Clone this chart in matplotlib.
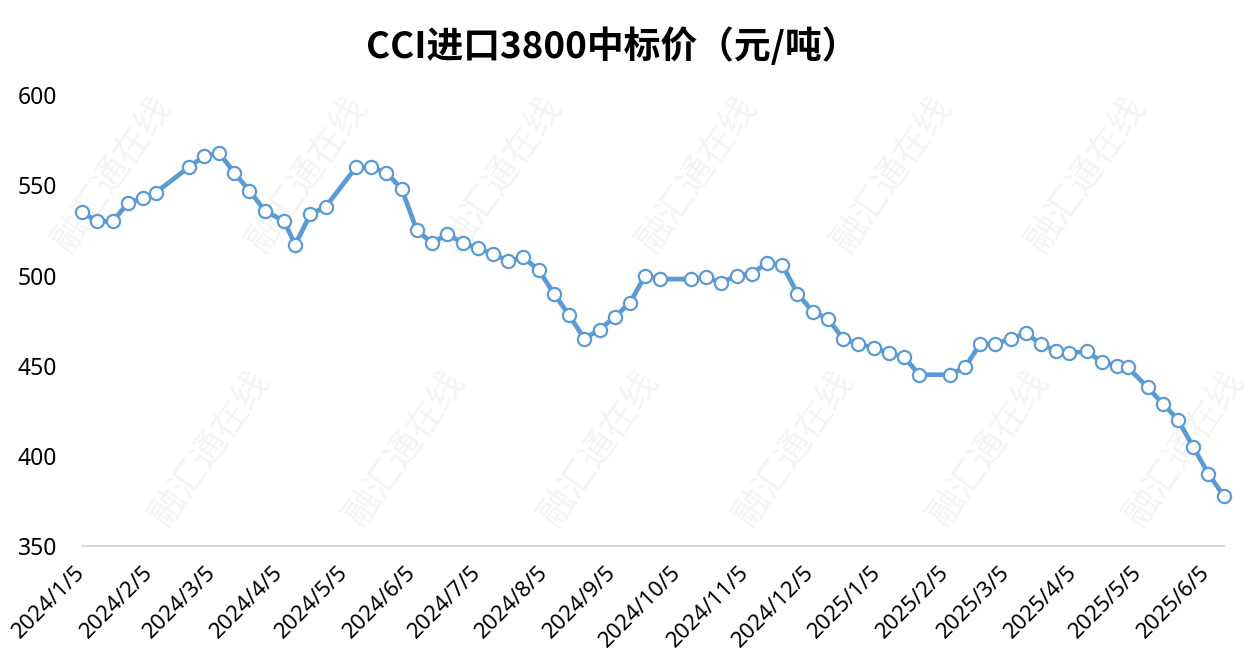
import matplotlib
matplotlib.use("Agg")
import matplotlib.pyplot as plt
import matplotlib.dates as mdates
import pandas as pd

plt.rcParams['font.family'] = ['Noto Sans', 'Noto Sans CJK SC', 'DejaVu Sans']

# 数据
dates = [
    "2024-01-05", "2024-01-12", "2024-01-19", "2024-01-26", "2024-02-02", "2024-02-08",
    "2024-02-23", "2024-03-01", "2024-03-08", "2024-03-15", "2024-03-22", "2024-03-29",
    "2024-04-07", "2024-04-12", "2024-04-19", "2024-04-26", "2024-05-10", "2024-05-17",
    "2024-05-24", "2024-05-31", "2024-06-07", "2024-06-14", "2024-06-21", "2024-06-28",
    "2024-07-05", "2024-07-12", "2024-07-19", "2024-07-26", "2024-08-02", "2024-08-09",
    "2024-08-16", "2024-08-23", "2024-08-30", "2024-09-06", "2024-09-13", "2024-09-20",
    "2024-09-27", "2024-10-11", "2024-10-18", "2024-10-25", "2024-11-01", "2024-11-08",
    "2024-11-15", "2024-11-22", "2024-11-29", "2024-12-06", "2024-12-13", "2024-12-20",
    "2024-12-27", "2025-01-03", "2025-01-10", "2025-01-17", "2025-01-24", "2025-02-07",
    "2025-02-14", "2025-02-21", "2025-02-28", "2025-03-07", "2025-03-14", "2025-03-21",
    "2025-03-28", "2025-04-03", "2025-04-11", "2025-04-18", "2025-04-25", "2025-04-30",
    "2025-05-09", "2025-05-16", "2025-05-23", "2025-05-30", "2025-06-06", "2025-06-13",
]
prices = [
    535, 530, 530, 540, 543, 546,
    560, 566, 568, 557, 547, 536,
    530, 517, 534, 538, 560, 560,
    557, 548, 525, 518, 523, 518,
    515, 512, 508, 510, 503, 490,
    478, 465, 470, 477, 485, 500,
    498, 498, 499, 496, 500, 501,
    507, 506, 490, 480, 476, 465,
    462, 460, 457, 455, 445, 445,
    449, 462, 462, 465, 468, 462,
    458, 457, 458, 452, 450, 449,
    438, 429, 420, 405, 390, 378,
]
yticks = [350, 400, 450, 500, 550, 600]
title = "CCI进口3800中标价（元/吨）"
watermark = "融汇通在线"

x = pd.to_datetime(dates)

fig = plt.figure(figsize=(12.49, 6.70), dpi=100)
ax = fig.add_axes([0.0657, 0.185, 0.914, 0.673])
ax.set_zorder(1)

# 水印（放在最底层，全部在画布内）
for k in range(6):
    for row, yc in enumerate([0.74, 0.33]):
        xc = 0.09 + k * 0.156 + (0.078 if row else 0)
        fig.text(xc, yc, watermark, fontsize=26, color="#f4f4f4", rotation=55,
                 family=['Noto Sans CJK SC'], ha='center', va='center', zorder=-5)

ax.plot(x, prices, color="#5B9BD5", lw=3.4, marker='o', markersize=9.5,
        markerfacecolor='white', markeredgecolor="#5B9BD5", markeredgewidth=1.6,
        clip_on=False, zorder=3)

ax.set_xlim(x[0], x[-1])
ax.set_ylim(350, 600)
ax.set_yticks(yticks)

ax.xaxis.set_major_locator(mdates.MonthLocator(bymonthday=5))
ax.xaxis.set_major_formatter(
    plt.FuncFormatter(lambda v, p: f"{mdates.num2date(v).year}/{mdates.num2date(v).month}/{mdates.num2date(v).day}"))

for s in ['top', 'right', 'left']:
    ax.spines[s].set_visible(False)
ax.spines['bottom'].set_color('#d9d9d9')
ax.spines['bottom'].set_linewidth(1.5)
ax.patch.set_alpha(0)

ax.tick_params(axis='y', length=0, labelsize=16.5, pad=18)
ax.tick_params(axis='x', length=0, labelsize=16, pad=17)
for lab in ax.get_xticklabels():
    lab.set_rotation(45)
    lab.set_horizontalalignment('right')
    lab.set_verticalalignment('center')
    lab.set_rotation_mode('anchor')

fig.text(0.49, 0.93, title, fontsize=26.5, fontweight='bold', ha='center', va='center',
         family=['Noto Sans CJK SC', 'DejaVu Sans'])

fig.savefig("out.png", dpi=100)
